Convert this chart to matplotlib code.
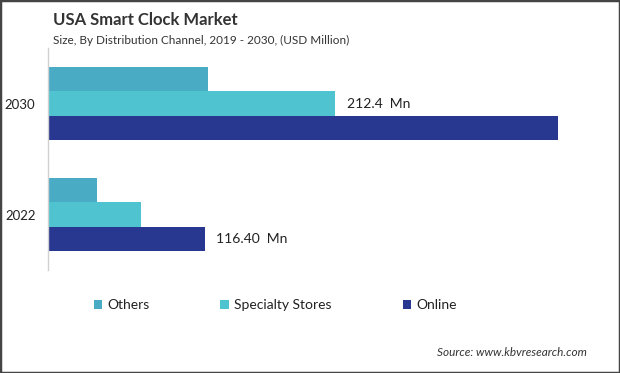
import numpy as np
import matplotlib.pyplot as plt
from matplotlib.patches import Rectangle

# data (USD Million)
years = ['2022', '2030']
channels = ['Others', 'Specialty Stores', 'Online']
others = [36.3, 118.5]
specialty = [68.9, 212.4]
online = [116.40, 377.8]
colors = ['#4AABC5', '#4FC3CF', '#283891']

plt.rcParams['font.family'] = ['Lato', 'DejaVu Sans']

fig = plt.figure(figsize=(6.2, 3.73), dpi=100)
ax = fig.add_axes([48/620, 1-270/373, 550/620, 222/373])

y = np.arange(len(years))
h = 0.222
bars = []
for off, vals, c, lab in zip([h, 0, -h], [others, specialty, online], colors, channels):
    b = ax.barh(y + off, vals, height=h, color=c, label=lab)
    bars.append(b)

ax.set_xlim(0, 550 * 0.7408)
ax.set_ylim(-0.5, 1.5)
ax.set_yticks(y)
ax.set_yticklabels(years, fontsize=9.5, color='#222222')
ax.tick_params(axis='y', length=0, pad=9)
ax.set_xticks([])
for s in ['top', 'right', 'bottom']:
    ax.spines[s].set_visible(False)
ax.spines['left'].set_color('#d0d0d0')
ax.spines['left'].set_linewidth(1)

# value labels
ax.text(specialty[1] + 9, y[1], '212.4  Mn', va='center', ha='left', fontsize=10, color='#222222')
ax.text(online[0] + 8, y[0] - h, '116.40  Mn', va='center', ha='left', fontsize=10, color='#222222')

fig.text(53/620, 1-20/373, 'USA Smart Clock Market', fontsize=12, fontweight='bold',
         color='#333333', va='center')
fig.text(53/620, 1-40/373, 'Size, By Distribution Channel, 2019 - 2030, (USD Million)',
         fontsize=8.5, color='#333333', va='center')

leg = fig.legend(handles=bars, labels=channels, ncol=3, loc='center left',
                 bbox_to_anchor=(81/620, 1-305/373), frameon=False, fontsize=10,
                 handlelength=0.6, handleheight=0.6, handletextpad=0.4, columnspacing=5.1)
for t in leg.get_texts():
    t.set_color('#222222')

fig.text(587/620, 1-352/373, 'Source: www.kbvresearch.com', fontsize=8.5, style='italic',
         color='#333333', ha='right', va='center')

fig.patches.append(Rectangle((0, 0), 1, 1, transform=fig.transFigure, fill=False,
                             edgecolor='#444444', linewidth=2.5))

fig.savefig('out.png', dpi=100)
